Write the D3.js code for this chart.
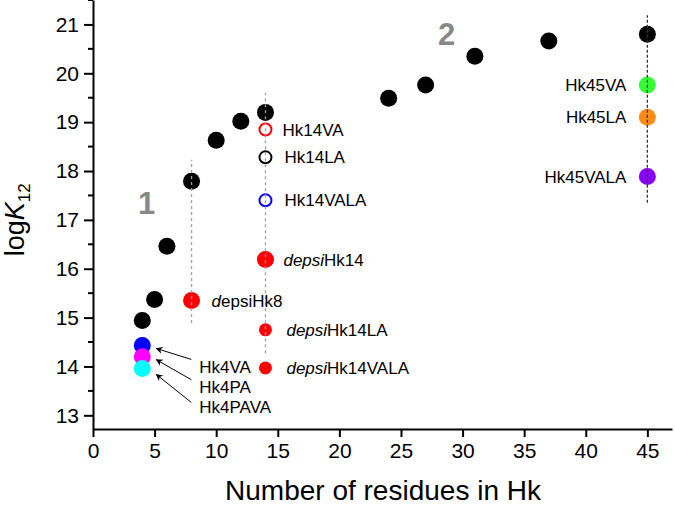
<!DOCTYPE html>
<html>
<head>
<meta charset="utf-8">
<script src="https://cdn.jsdelivr.net/npm/d3@7"></script>
<style>
  html, body { margin: 0; padding: 0; background: #fff; }
  svg { display: block; font-family: "Liberation Sans", Arial, sans-serif; }
</style>
</head>
<body>
<svg id="chart" width="675" height="508"></svg>
<script>
// ---- data ----
const residues = [4, 5, 6, 8, 10, 12, 14, 24, 27, 31, 37, 45];
const logK = [14.94, 15.37, 16.46, 17.79, 18.63, 19.02, 19.2, 19.49, 19.76, 20.35, 20.66, 20.8];

const variantNames = ["Hk4VA", "Hk4PA", "Hk4PAVA", "depsiHk8", "Hk14VA", "Hk14LA", "Hk14VALA",
  "depsiHk14", "depsiHk14LA", "depsiHk14VALA", "Hk45VA", "Hk45LA", "Hk45VALA"];
const variantResidues = [4, 4, 4, 8, 14, 14, 14, 14, 14, 14, 45, 45, 45];
const variantLogK = [14.43, 14.2, 13.96, 15.35, 18.85, 18.28, 17.4, 16.19, 14.75, 13.97, 19.76, 19.1, 17.89];

const guideX = [8, 14, 45];
const guideFrom = [14.89, 14.27, 17.35];
const guideTo = [18.23, 19.6, 21.19];

const xTicks = [0, 5, 10, 15, 20, 25, 30, 35, 40, 45];
const yTicks = [13, 14, 15, 16, 17, 18, 19, 20, 21];
const yMinorTicks = [13.5, 14.5, 15.5, 16.5, 17.5, 18.5, 19.5, 20.5, 21.5];

// ---- styles / layout (not data) ----
const variantStyle = {
  "Hk4VA":        { color: "#0000ff", filled: true,  r: 8.5 },
  "Hk4PA":        { color: "#ff00ff", filled: true,  r: 8.5 },
  "Hk4PAVA":      { color: "#00ffff", filled: true,  r: 8.5 },
  "depsiHk8":     { color: "#ff0000", filled: true,  r: 8.5 },
  "Hk14VA":       { color: "#ff0000", filled: false, r: 6 },
  "Hk14LA":       { color: "#000000", filled: false, r: 6 },
  "Hk14VALA":     { color: "#0000ff", filled: false, r: 6 },
  "depsiHk14":    { color: "#ff0000", filled: true,  r: 8.5 },
  "depsiHk14LA":  { color: "#ff0000", filled: true,  r: 6.5 },
  "depsiHk14VALA":{ color: "#ff0000", filled: true,  r: 6.5 },
  "Hk45VA":       { color: "#33ff33", filled: true,  r: 8.5 },
  "Hk45LA":       { color: "#ff8c1a", filled: true,  r: 8.5 },
  "Hk45VALA":     { color: "#8a00ff", filled: true,  r: 8.5 }
};
// label: dx/dy pixel offsets from point; parts: [text, italic]
const labelLayout = {
  "Hk4VA":        { dx: 57, dy: 21, anchor: "start", parts: [["Hk4VA", false]], arrow: { hx: 14, hy: 3, ty: -7 } },
  "Hk4PA":        { dx: 57, dy: 30, anchor: "start", parts: [["Hk4PA", false]], arrow: { hx: 14, hy: 3, ty: -7 } },
  "Hk4PAVA":      { dx: 57, dy: 38, anchor: "start", parts: [["Hk4PAVA", false]], arrow: { hx: 14, hy: 6, ty: -4 } },
  "depsiHk8":     { dx: 20, dy: 0, anchor: "start", parts: [["d", true], ["epsiHk8", false]] },
  "Hk14VA":       { dx: 17, dy: 0, anchor: "start", parts: [["Hk14VA", false]] },
  "Hk14LA":       { dx: 19, dy: 0, anchor: "start", parts: [["Hk14LA", false]] },
  "Hk14VALA":     { dx: 19, dy: 0, anchor: "start", parts: [["Hk14VALA", false]] },
  "depsiHk14":    { dx: 18, dy: 0, anchor: "start", parts: [["depsi", true], ["Hk14", false]] },
  "depsiHk14LA":  { dx: 21, dy: 0, anchor: "start", parts: [["depsi", true], ["Hk14LA", false]] },
  "depsiHk14VALA":{ dx: 21, dy: 0, anchor: "start", parts: [["depsi", true], ["Hk14VALA", false]] },
  "Hk45VA":       { dx: -21, dy: 0, anchor: "end", parts: [["Hk45VA", false]] },
  "Hk45LA":       { dx: -21, dy: 0, anchor: "end", parts: [["Hk45LA", false]] },
  "Hk45VALA":     { dx: -21, dy: 0, anchor: "end", parts: [["Hk45VALA", false]] }
};
const guideStyle = [
  { color: "#a0a0a0", dash: "3,3" },
  { color: "#a0a0a0", dash: "3,3" },
  { color: "#333333", dash: "3,2" }
];

const svg = d3.select("#chart");
const x = d3.scaleLinear().domain([0, 47]).range([93, 672]);
const y = d3.scaleLinear().domain([12.72, 21.5]).range([429, 0]);

svg.append("defs").append("marker")
  .attr("id", "arrowhead").attr("viewBox", "0 0 10 10")
  .attr("refX", 9).attr("refY", 5)
  .attr("markerWidth", 9).attr("markerHeight", 7)
  .attr("markerUnits", "userSpaceOnUse")
  .attr("orient", "auto")
  .append("path").attr("d", "M0,0 L10,5 L0,10 L3,5 Z").attr("fill", "#000");

// ---- axes ----
const xAxis = svg.append("g").attr("transform", `translate(0,${y.range()[0]})`)
  .call(d3.axisBottom(x).tickValues(xTicks).tickSize(8).tickSizeOuter(0).tickPadding(6));
xAxis.select(".domain").attr("stroke-width", 2);
xAxis.selectAll(".tick line").attr("stroke-width", 2);
xAxis.selectAll(".tick text").attr("font-size", 21).attr("fill", "#000")
  .attr("font-family", "Liberation Sans, Arial, sans-serif");

const yAxis = svg.append("g").attr("transform", `translate(${x.range()[0]},0)`)
  .call(d3.axisLeft(y).tickValues(yTicks).tickSize(9).tickSizeOuter(0).tickPadding(5));
yAxis.select(".domain").attr("stroke-width", 2);
yAxis.selectAll(".tick line").attr("stroke-width", 2);
yAxis.selectAll(".tick text").attr("font-size", 21).attr("fill", "#000")
  .attr("font-family", "Liberation Sans, Arial, sans-serif");

svg.append("g").selectAll("line").data(yMinorTicks).join("line")
  .attr("x1", x.range()[0] - 5).attr("x2", x.range()[0])
  .attr("y1", d => y(d)).attr("y2", d => y(d))
  .attr("stroke", "#000").attr("stroke-width", 2);

// axis titles
svg.append("text")
  .attr("x", 383).attr("y", 500)
  .attr("text-anchor", "middle").attr("font-size", 28).attr("fill", "#000")
  .text("Number of residues in Hk");

const yt = svg.append("text")
  .attr("transform", `translate(24,${y(17)}) rotate(-90)`)
  .attr("text-anchor", "middle").attr("font-size", 27).attr("fill", "#000");
yt.append("tspan").text("log");
yt.append("tspan").attr("font-style", "italic").text("K");
yt.append("tspan").attr("font-size", 17).attr("dy", 6).text("12");

// region numbers
svg.append("text").attr("x", x(3.65)).attr("y", y(17.12))
  .attr("font-size", 31).attr("font-weight", "bold").attr("fill", "#888")
  .text("1");
svg.append("text").attr("x", x(28.0)).attr("y", y(20.58))
  .attr("font-size", 31).attr("font-weight", "bold").attr("fill", "#888")
  .text("2");

// ---- main series ----
svg.append("g").selectAll("circle").data(residues.map((r, i) => [r, logK[i]])).join("circle")
  .attr("cx", d => x(d[0])).attr("cy", d => y(d[1])).attr("r", 8.5).attr("fill", "#000");

// ---- variants ----
const variants = variantNames.map((n, i) => ({ name: n, rx: variantResidues[i], v: variantLogK[i] }));
svg.append("g").selectAll("circle").data(variants).join("circle")
  .attr("cx", d => x(d.rx)).attr("cy", d => y(d.v))
  .attr("r", d => variantStyle[d.name].r)
  .attr("fill", d => variantStyle[d.name].filled ? variantStyle[d.name].color : "none")
  .attr("stroke", d => variantStyle[d.name].filled ? "none" : variantStyle[d.name].color)
  .attr("stroke-width", 2);

// ---- guide lines (on top of points) ----
svg.append("g").selectAll("line").data(guideX.map((gx, i) => ({ gx, a: guideFrom[i], b: guideTo[i], s: guideStyle[i] }))).join("line")
  .attr("x1", d => x(d.gx)).attr("x2", d => x(d.gx))
  .attr("y1", d => y(d.a)).attr("y2", d => y(d.b))
  .attr("stroke", d => d.s.color).attr("stroke-width", 1.3)
  .attr("stroke-dasharray", d => d.s.dash);

// ---- labels ----
const lg = svg.append("g");
variants.forEach(d => {
  const L = labelLayout[d.name];
  const px = x(d.rx), py = y(d.v);
  const t = lg.append("text")
    .attr("x", px + L.dx).attr("y", py + L.dy).attr("dy", "0.36em")
    .attr("text-anchor", L.anchor).attr("font-size", 17).attr("fill", "#000");
  L.parts.forEach(p => t.append("tspan").attr("font-style", p[1] ? "italic" : "normal").text(p[0]));
  if (L.arrow) {
    lg.append("line")
      .attr("x1", px + L.dx - 8).attr("y1", py + L.dy + L.arrow.ty)
      .attr("x2", px + L.arrow.hx).attr("y2", py + L.arrow.hy)
      .attr("stroke", "#000").attr("stroke-width", 1)
      .attr("marker-end", "url(#arrowhead)");
  }
});
</script>
</body>
</html>
